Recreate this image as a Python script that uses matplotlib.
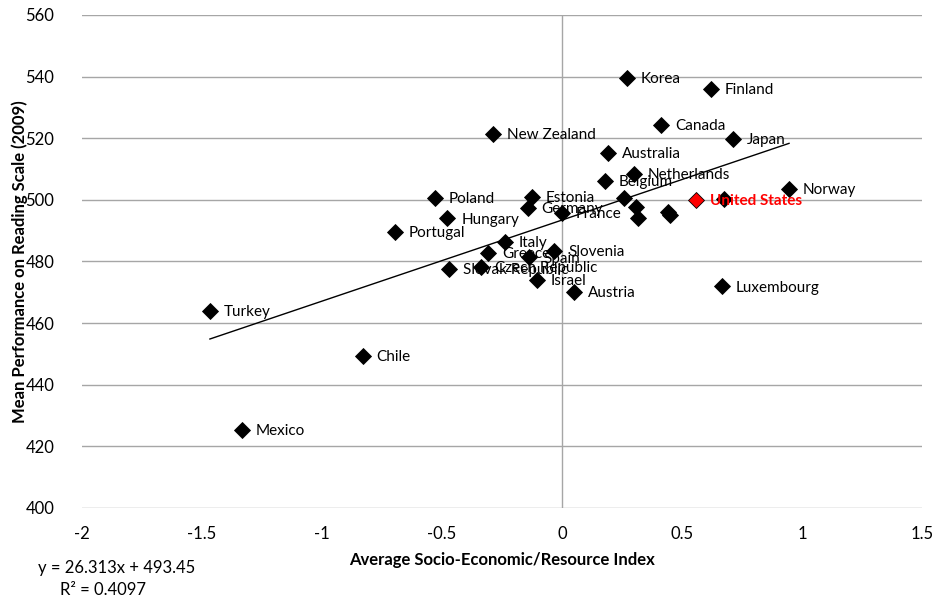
import matplotlib
matplotlib.use("Agg")
import matplotlib.pyplot as plt
import numpy as np

plt.rcParams['font.family'] = ['Lato', 'DejaVu Sans']

# Countries: socio-economic/resource index vs. mean reading score (PISA 2009)
countries = [
    "Korea", "Finland", "Canada", "Japan", "New Zealand", "Australia",
    "Netherlands", "Belgium", "Norway", "Estonia", "Poland", "United States",
    "Iceland", "Switzerland", "France", "Germany", "Sweden", "United Kingdom",
    "Ireland", "Denmark", "Hungary", "Portugal", "Italy", "Greece",
    "Slovenia", "Spain", "Czech Republic", "Slovak Republic", "Israel",
    "Austria", "Luxembourg", "Turkey", "Chile", "Mexico",
]
show_label = [
    True, True, True, True, True, True,
    True, True, True, True, True, True,
    False, False, True, True, False, False,
    False, False, True, True, True, True,
    True, True, True, True, True,
    True, True, True, True, True,
]
index_values = [
    0.271, 0.621, 0.413, 0.713, -0.288, 0.192,
    0.300, 0.179, 0.946, -0.125, -0.529, 0.558,
    0.675, 0.257, 0.000, -0.143, 0.308, 0.318,
    0.442, 0.450, -0.478, -0.696, -0.238, -0.307,
    -0.033, -0.136, -0.338, -0.470, -0.105,
    0.050, 0.667, -1.467, -0.830, -1.335,
]
reading_scores = [
    539.6, 536.0, 524.3, 519.8, 521.4, 515.2,
    508.4, 506.1, 503.5, 500.9, 500.6, 500.0,
    500.3, 500.6, 495.8, 497.5, 497.8, 494.0,
    496.1, 495.1, 494.0, 489.6, 486.4, 482.9,
    483.4, 481.4, 478.3, 477.6, 474.0,
    470.2, 472.0, 464.0, 449.3, 425.3,
]
highlight = "United States"

# Linear trend
slope, intercept = 26.313, 493.45
r_squared = 0.4097

x_ticks = [-2, -1.5, -1, -0.5, 0, 0.5, 1, 1.5]
y_ticks = [400, 420, 440, 460, 480, 500, 520, 540, 560]

fig = plt.figure(figsize=(9.35, 6.01), dpi=100)
ax = fig.add_axes([82 / 935, 1 - 508 / 601, 840 / 935, 493 / 601])

grid_color = "#a6a6a6"
ax.set_xlim(-2, 1.5)
ax.set_ylim(400, 560)
for s in ["top", "right", "left", "bottom"]:
    ax.spines[s].set_visible(False)
for yv in y_ticks:
    ax.axhline(yv, color=grid_color, lw=1.0, zorder=0)
ax.axvline(0, color=grid_color, lw=1.0, zorder=0)

ax.set_xticks(x_ticks)
ax.set_xticklabels([f"{v:g}" for v in x_ticks])
ax.set_yticks(y_ticks)
ax.tick_params(axis="both", length=0, labelsize=12, colors="#000000")
ax.tick_params(axis="x", pad=13)
ax.tick_params(axis="y", pad=20)

xs = np.array(index_values)
ys = np.array(reading_scores)

# Trend line across the observed range
xl = np.array([xs.min(), xs.max()])
ax.plot(xl, slope * xl + intercept, color="black", lw=1.0, zorder=2)

for name, xv, yv, lab in zip(countries, xs, ys, show_label):
    if name == highlight:
        ax.plot(xv, yv, marker="D", ms=8.5, mfc="#ff0000", mec="black", mew=0.6, zorder=3)
        ax.annotate(name, (xv, yv), xytext=(10, -1), textcoords="offset points",
                    va="center", ha="left", fontsize=11, color="#ff0000",
                    fontweight="bold", zorder=4)
    else:
        ax.plot(xv, yv, marker="D", ms=8.5, mfc="black", mec="black", mew=0.6, zorder=3)
        if lab:
            ax.annotate(name, (xv, yv), xytext=(10, -1), textcoords="offset points",
                        va="center", ha="left", fontsize=11, color="black", zorder=4)

ax.set_xlabel("Average Socio-Economic/Resource Index", fontsize=12,
              fontweight="bold", labelpad=7)
ax.set_ylabel("Mean Performance on Reading Scale (2009)", fontsize=12,
              fontweight="bold", labelpad=-2)

fig.text(38 / 935, 1 - 568 / 601, f"y = {slope}x + {intercept}", fontsize=12,
         va="center", ha="left")
fig.text(60 / 935, 1 - 590 / 601, f"R² = {r_squared}", fontsize=12,
         va="center", ha="left")

fig.savefig("out.png", dpi=100)
